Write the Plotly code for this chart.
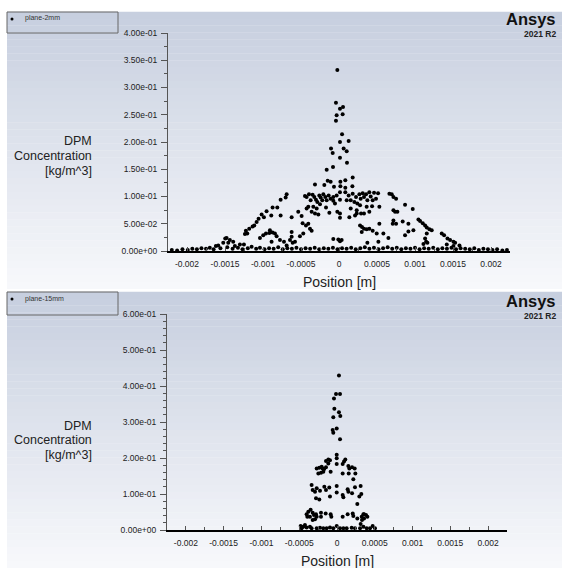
import plotly.graph_objects as go

# ---------------- data (x in micrometres, y in g/m^3) ----------------
# plane-2mm
top_x_um = [
    -22, -40, 13, 53, -31, 48, -40, 40, 13, 127, -105, 61, -83, 101, 13, 105, -79, -162, 180, 83,
    -149, -110, 18, -193, -66, 18, 83, 176, -316,
    -448, -426, -395, -373, -347, -325, -303, -285, -259, -241, -220, -206, -180, -162, -136, -110, -75, -53,
    -338, -404, -294, -250, -360, -316, -171, -272, -127, -22, 13, 13, -75, -31, 13, 13, 83, 101, 127, 154,
    180, 202, 224, 241, 268, 285, 312, 329, 356, 373, 399, 417, 443, 461, 487, 514, 531, 435, 364, 277,
    233, 211, 154, 136, 233, 290, 399, 329,
    -689, -702, -768, -812, -874, -953, -1018, -1058, -1084, -1137, -1181, -1225, -1238, -1207, -1115, -988, -891, -768,
    -1479, -1497, -1523, -1457, -1392, -1589, -1620, -1304, -1251, -1436, -1370,
    -1040, -997, -961, -917, -874, -843, -821, -777, -724, -645, -623, -610, -689, -579, -514, -470, -435, -404, -382, -360, -479,
    -75, -9, 13, 35,
    -623, -623, -536, -492, -426, -909, -887,
    663, 694, 716, 751, 869, 970, 716, 738, 768, 707, 716, 751, 838, 913, 913, 869, 979, 1045, 1067, 1102,
    1133, 1155, 1190, 1220, 1155, 1133, 1146, 1163, 1111, 1352, 1383, 1427, 1462, 1506, 1528, 1585, 1506, 1418,
    277, 303, 329, 364, 399, 443, 299, 496, 584, 650, 518, 373, 531,
    -2200, -2130, -2060, -1990, -1930, -1870, -1810, -1750, -1700, -1650, -1560, -1470, -1400, -1330, -1270, -1200,
    -1150, -1090, -1040, -980, -920, -860, -800, -740, -680, -620, -560, -500, -440, -380, -320, -260, -200, -140,
    -80, -20, 40, 100, 160, 220, 280, 340, 400, 460, 520, 580, 640, 700, 760, 820, 880, 940, 1000, 1060, 1120,
    1180, 1240, 1300, 1360, 1420, 1480, 1540, 1600, 1660, 1720, 1780, 1840, 1900, 1960, 2020, 2080, 2150, 2210,
]
top_y_g = [
    332, 272, 261, 264, 249, 251, 239, 214, 200, 202, 188, 188, 180, 183, 171, 162, 154, 149, 135, 130,
    129, 127, 127, 121, 118, 119, 116, 119, 122,
    101, 99, 104, 93, 103, 99, 94, 90, 102, 98, 93, 104, 99, 93, 102, 96, 99, 87,
    81, 81, 78, 86, 72, 69, 80, 67, 70, 72, 69, 61, 92, 102, 108, 94, 108, 93, 102, 93,
    105, 90, 99, 87, 104, 96, 106, 99, 104, 93, 108, 100, 93, 107, 96, 106, 81, 82, 81, 84,
    75, 65, 78, 62, 69, 69, 72, 69,
    104, 98, 94, 80, 80, 73, 67, 59, 53, 45, 41, 37, 31, 32, 47, 62, 65, 65,
    24, 23, 15, 15, 17, 10, 9, 12, 12, 20, 9,
    24, 29, 32, 33, 34, 32, 27, 20, 17, 20, 26, 15, 10, 17, 27, 32, 47, 50, 41, 37, 51,
    22, 21, 18, 20,
    62, 35, 72, 64, 78, 38, 17,
    105, 104, 99, 96, 85, 77, 75, 72, 72, 50, 56, 50, 54, 50, 36, 29, 38, 58, 55, 51,
    47, 43, 40, 38, 32, 23, 17, 15, 13, 32, 29, 23, 20, 17, 15, 10, 9, 12,
    47, 44, 41, 40, 41, 37, 35, 32, 32, 24, 17, 15, 50,
    2, 1, 3, 2, 4, 3, 5, 4, 6, 3, 5, 7, 4, 6, 3, 5,
    8, 4, 6, 3, 5, 4, 7, 3, 5, 4, 6, 3, 5, 4, 6, 3, 5, 4,
    6, 3, 5, 4, 6, 3, 5, 7, 4, 6, 3, 5, 7, 4, 6, 3, 5, 4, 6, 3, 5,
    4, 6, 3, 5, 4, 6, 3, 5, 4, 3, 5, 2, 4, 3, 2, 3, 1, 2,
]

# plane-15mm
bottom_x_um = [
    26, -13, 40, -40, -35, 26, 44, -49, -49, -4, -57, 40, -4, -4,
    -269, -234, -203, -172, -146, -115, -93, -115, -146, -212, -181, -84, -4, 75, 93, 110, 150, 163, 199, 234,
    75, 155, 243, 216, -247, -190,
    -336, -322, -291, -269, -225, -168, -146, -102, -4, -4, 75, 84, 141, 150, 199, 238, 296, 322, 313, -93,
    -278, -234, 269,
    -402, -380, -349, -322, -305, -278, -358, -393, -322, -291, -269, -212, -212, -150, -84, -75, 75, 141,
    208, 216, 269, 327, 349, 384, 402, 358, 331, 313, 358,
    -481, -446, -402, -468, -336, -269, -225, -181, -137, -93, -49, -4, 40, 84, 128, 194, 238, 305, 349,
    393, 437, 472, 503, -358, -424,
]
bottom_y_g = [
    429, 378, 378, 365, 337, 327, 317, 313, 270, 282, 278, 252, 209, 199,
    171, 173, 176, 169, 174, 185, 194, 196, 192, 159, 162, 162, 183, 183, 190, 196, 178, 171, 174, 171,
    157, 157, 157, 141, 157, 171,
    125, 111, 106, 116, 109, 120, 111, 118, 122, 104, 97, 91, 113, 106, 102, 119, 93, 100, 122, 93,
    88, 85, 72,
    44, 51, 56, 48, 42, 44, 37, 37, 28, 30, 37, 48, 37, 46, 44, 37, 37, 44,
    46, 39, 32, 37, 44, 42, 37, 32, 28, 17, 44,
    11, 9, 7, 5, 5, 5, 6, 5, 5, 7, 5, 11, 5, 5, 5, 6, 5, 5, 9,
    5, 5, 11, 5, 9, 14,
]

x_tickvals = [-0.002, -0.0015, -0.001, -0.0005, 0, 0.0005, 0.001, 0.0015, 0.002]
x_ticktext = ["-0.002", "-0.0015", "-0.001", "-0.0005", "0", "0.0005", "0.001", "0.0015", "0.002"]
top_y_tickvals = [0, 0.05, 0.10, 0.15, 0.20, 0.25, 0.30, 0.35, 0.40]
top_y_ticktext = ["0.00e+00", "5.00e-02", "1.00e-01", "1.50e-01", "2.00e-01",
                  "2.50e-01", "3.00e-01", "3.50e-01", "4.00e-01"]
bottom_y_tickvals = [0, 0.1, 0.2, 0.3, 0.4, 0.5, 0.6]
bottom_y_ticktext = ["0.00e+00", "1.00e-01", "2.00e-01", "3.00e-01", "4.00e-01", "5.00e-01", "6.00e-01"]

series_names = ["plane-2mm", "plane-15mm"]
y_title_lines = ["DPM", "Concentration", "[kg/m^3]"]
x_title = "Position [m]"

# ---------------- figure ----------------
W, H = 562, 568
FONT = "Liberation Sans, Arial, sans-serif"


def px(xp):
    return xp / W


def py(yp):
    return 1 - yp / H


fig = go.Figure()

fig.add_trace(go.Scatter(
    x=[v * 1e-6 for v in top_x_um], y=[v / 1000 for v in top_y_g],
    mode="markers", marker=dict(color="black", size=4, line=dict(width=0)),
    xaxis="x", yaxis="y", name=series_names[0], showlegend=False, cliponaxis=False))
fig.add_trace(go.Scatter(
    x=[v * 1e-6 for v in bottom_x_um], y=[v / 1000 for v in bottom_y_g],
    mode="markers", marker=dict(color="black", size=4, line=dict(width=0)),
    xaxis="x2", yaxis="y2", name=series_names[1], showlegend=False, cliponaxis=False))

shapes = []
annotations = []


def panel_background(y0, y1, x0=7, x1=562, n=40):
    top = (199, 207, 223)
    bot = (247, 248, 251)
    for i in range(n):
        t = i / (n - 1)
        c = tuple(int(round(top[k] + (bot[k] - top[k]) * t)) for k in range(3))
        ya = y0 + (y1 - y0) * i / n
        yb = y0 + (y1 - y0) * (i + 1) / n
        shapes.append(dict(type="rect", xref="paper", yref="paper",
                           x0=px(x0), x1=px(x1), y0=py(yb), y1=py(ya) + 0.0005,
                           fillcolor="rgb(%d,%d,%d)" % c, line=dict(width=0), layer="below"))


panel_background(12, 289)
panel_background(292, 568)

# legend boxes
for (y0, y1, name) in [(12, 33, series_names[0]), (292, 315, series_names[1])]:
    shapes.append(dict(type="rect", xref="paper", yref="paper",
                       x0=px(7), x1=px(118), y0=py(y1), y1=py(y0),
                       line=dict(color="#666666", width=1), fillcolor="rgba(0,0,0,0)", layer="below"))
    shapes.append(dict(type="circle", xref="paper", yref="paper",
                       x0=px(10.5), x1=px(13.5), y0=py(y0 + 8.5), y1=py(y0 + 5.5),
                       fillcolor="black", line=dict(width=0)))
    annotations.append(dict(xref="paper", yref="paper", x=px(23), y=py(y0 + 6.5),
                            text=name, showarrow=False, xanchor="left", yanchor="middle",
                            font=dict(family=FONT, size=7, color="#333333")))

# Ansys branding
for (ya, yb) in [(19, 34), (301, 316)]:
    annotations.append(dict(xref="paper", yref="paper", x=px(557), y=py(ya), text="<b>Ansys</b>",
                            showarrow=False, xanchor="right", yanchor="middle", borderpad=0,
                            font=dict(family=FONT, size=16.5, color="#111111")))
    annotations.append(dict(xref="paper", yref="paper", x=px(557), y=py(yb), text="<b>2021 R2</b>",
                            showarrow=False, xanchor="right", yanchor="middle", borderpad=0,
                            font=dict(family=FONT, size=8.5, color="#222222")))

# y titles and x titles
for (yc, xt_y, xc) in [(156, 282, 339), (440, 561, 337)]:
    for i, line in enumerate(y_title_lines):
        annotations.append(dict(xref="paper", yref="paper", x=px(94), y=py(yc + (i - 1) * 14.5),
                                text=line, showarrow=False, xanchor="right", yanchor="middle",
                                font=dict(family=FONT, size=12.5, color="#222222")))
    annotations.append(dict(xref="paper", yref="paper", x=px(xc), y=py(xt_y), text=x_title,
                            showarrow=False, xanchor="center", yanchor="middle", borderpad=0,
                            font=dict(family=FONT, size=14, color="#222222")))

tickfont = dict(family=FONT, size=8.5, color="#222222")

xcommon = dict(range=[-0.00225, 0.00225], tickvals=x_tickvals, ticktext=x_ticktext,
               showline=True, linecolor="black", linewidth=2, ticks="inside", ticklen=4,
               tickcolor="#555555", showgrid=False, zeroline=False, tickfont=tickfont,
               ticklabelstandoff=4, automargin=False,
               minor=dict(ticks="inside", ticklen=3, dtick=0.00025, tick0=0, tickcolor="#555555"))

ycommon = dict(showline=True, linecolor="#555555", linewidth=1, ticks="outside", ticklen=6,
               tickcolor="#555555", showgrid=False, zeroline=False, tickfont=tickfont,
               ticklabelstandoff=2, automargin=False)

fig.update_layout(
    width=W, height=H, margin=dict(l=0, r=0, t=0, b=0, autoexpand=False),
    paper_bgcolor="white", plot_bgcolor="rgba(0,0,0,0)",
    showlegend=False,
    xaxis=dict(domain=[px(168), px(510)], anchor="y", **xcommon),
    yaxis=dict(domain=[py(251), py(33)], anchor="x", range=[0, 0.4],
               tickvals=top_y_tickvals, ticktext=top_y_ticktext,
               minor=dict(ticks="outside", ticklen=3, dtick=0.025, tick0=0, tickcolor="#555555"),
               **ycommon),
    xaxis2=dict(domain=[px(167), px(507)], anchor="y2", **xcommon),
    yaxis2=dict(domain=[py(530), py(314)], anchor="x2", range=[0, 0.6],
                tickvals=bottom_y_tickvals, ticktext=bottom_y_ticktext,
                minor=dict(ticks="outside", ticklen=3, dtick=0.02, tick0=0, tickcolor="#555555"),
                **ycommon),
    shapes=shapes, annotations=annotations,
)

fig.write_html(
    "out.html",
    config={"displayModeBar": False},
    post_script="document.documentElement.style.margin='0';document.documentElement.style.overflow='hidden';"
                "document.body.style.margin='0';document.body.style.padding='0';document.body.style.overflow='hidden';",
)
